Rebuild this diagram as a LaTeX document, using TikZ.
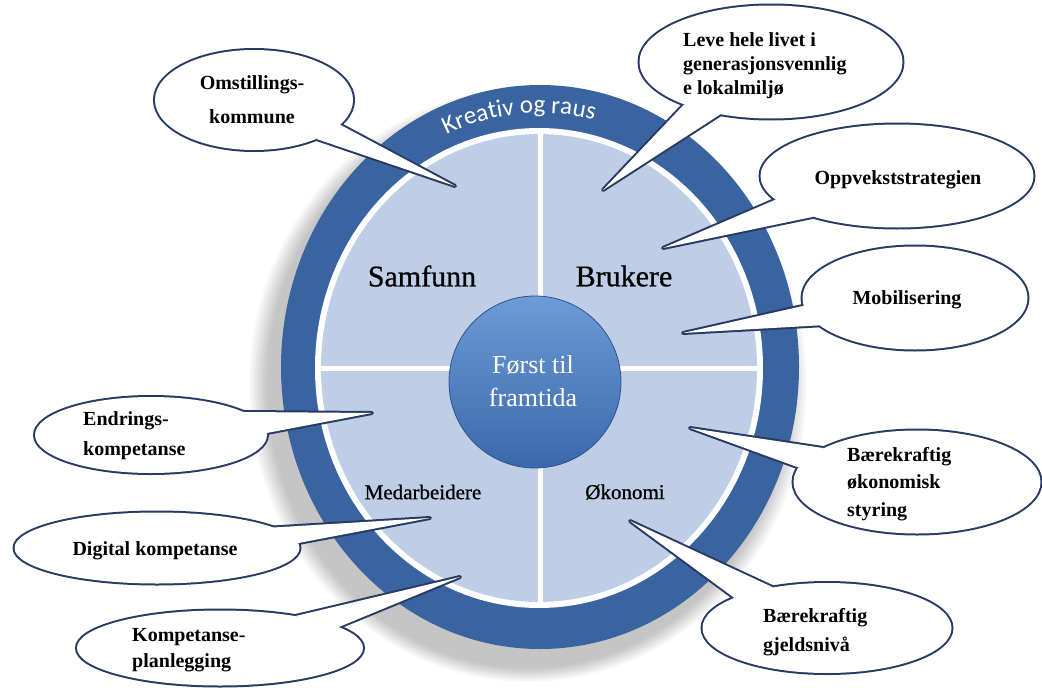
\documentclass[tikz,border=0pt]{standalone}
\usepackage{fontspec}
\setmainfont{Liberation Serif}
\newfontfamily\kreativfamily{Carlito}
\newfontfamily\quadfamily{Liberation Serif}[FakeBold=0.8]
\usetikzlibrary{shapes.geometric,decorations.text}
\definecolor{ringc}{RGB}{57,100,160}
\definecolor{innerc}{RGB}{190,206,230}
\definecolor{bubblec}{RGB}{40,58,100}
\definecolor{coretop}{RGB}{108,155,214}
\definecolor{corebot}{RGB}{58,104,172}
\newcommand\mycallout[7]{%
  \node[bubbleline, minimum width=#3, minimum height=#4] (#1) at (#2) {};
  \coordinate (#1tip) at (#5);
  \draw[tailline] (#1.#6) -- (#1tip) -- (#1.#7);
  \node[bubblefill, minimum width=#3, minimum height=#4] (#1fill) at (#1.center) {};
  \fill[white] (#1.#6) -- (#1tip) -- (#1.#7) -- cycle;
}
\tikzset{
  bubbleline/.style={shape=ellipse, draw=bubblec, line width=4pt, outer sep=0pt, inner sep=0pt},
  bubblefill/.style={shape=ellipse, fill=white, outer sep=0pt, inner sep=0pt},
  tailline/.style={draw=bubblec, line width=4pt, line join=round},
  btext/.style={inner sep=0pt, text=black, font=\bfseries\fontsize{20}{24}\selectfont},
  bigquad/.style={inner sep=0pt, text=black, font=\quadfamily\fontsize{30}{30}\selectfont},
  smallquad/.style={inner sep=0pt, text=black, font=\quadfamily\fontsize{21}{21}\selectfont},
  cross/.style={draw=white, line width=5pt},
}
\begin{document}
\begin{tikzpicture}[x=1pt,y=-1pt]
\useasboundingbox (0,0) rectangle (1042,688);
\fill[white] (0,0) rectangle (1042,688);
% soft shadow
\foreach \i in {1,...,10}
  \fill[black, opacity=0.025] (528,385) ellipse [x radius={259+2*\i}, y radius={282+1.5*\i}];
% ring
\fill[ringc] (540,367) ellipse [x radius=259, y radius=282];
\fill[white] (539,368) ellipse [x radius=224, y radius=240];
\fill[innerc] (539,368) ellipse [x radius=218, y radius=234];
% cross
\draw[cross] (540,134) -- (540,602);
\draw[cross] (321,368) -- (757,368);
% ring text
\path[decorate, decoration={text along path, text color=white, text align=center,
  text={|\kreativfamily\fontsize{25}{25}\selectfont|Kreativ og raus}}]
  plot[domain=225:305, samples=60] ({540+233*cos(\x)}, {367+254*sin(\x)});
% core
\shade[top color=coretop, bottom color=corebot, draw=corebot!80!black, line width=0.8pt]
  (535,382) circle [radius=86];
\node[inner sep=0pt, text=white, align=center, font=\fontsize{26}{33}\selectfont] (core) at (533,381) {Først til\\framtida};
% quadrant labels
\node[bigquad] (samfunn) at (422,276) {Samfunn};
\node[bigquad] (brukere) at (624,276) {Brukere};
\node[smallquad] (medarb) at (423,492) {Medarbeidere};
\node[smallquad] (okonomi) at (625,492) {Økonomi};
% callouts
\mycallout{omst}{254,100}{198pt}{100pt}{455,186}{-32}{-16}
\mycallout{leve}{771,62}{263pt}{113pt}{603,190}{206}{226}
\mycallout{oppv}{897,176}{273pt}{103pt}{663,248}{191}{206}
\mycallout{mobi}{915,298}{225pt}{103pt}{683,333}{184}{196}
\mycallout{okst}{917,482}{247pt}{103pt}{690,428}{160}{173}
\mycallout{gjeld}{827,628}{249pt}{90pt}{630,521}{143}{162}
\mycallout{endr}{151,435}{232pt}{76pt}{372,413}{14}{1}
\mycallout{digi}{157,548}{285pt}{71pt}{430,518}{10}{2}
\mycallout{komp}{220,648}{286pt}{75pt}{460,577}{23}{10}
% callout texts
\node[btext, align=center, font=\bfseries\fontsize{20}{34}\selectfont] (tomst) at (252,100) {Omstillings-\\kommune};
\node[btext, align=left, anchor=west] (tleve) at (683,66) {Leve hele livet i\\generasjonsvennlig\\e lokalmiljø};
\node[btext] (toppv) at (898,180) {Oppvekststrategien};
\node[btext] (tmobi) at (907,300) {Mobilisering};
\node[btext, align=left, anchor=west, font=\bfseries\fontsize{20}{27.5}\selectfont] (tokst) at (847,484) {Bærekraftig\\økonomisk\\styring};
\node[btext, align=left, anchor=west, font=\bfseries\fontsize{20}{29}\selectfont] (tgjeld) at (763,632) {Bærekraftig\\gjeldsnivå};
\node[btext, align=left, anchor=west, font=\bfseries\fontsize{20}{30}\selectfont] (tendr) at (83,436) {Endrings-\\kompetanse};
\node[btext] (tdigi) at (155,551) {Digital kompetanse};
\node[btext, align=left, anchor=west, font=\bfseries\fontsize{20}{26}\selectfont] (tkomp) at (132,650) {Kompetanse-\\planlegging};
\end{tikzpicture}
\end{document}
